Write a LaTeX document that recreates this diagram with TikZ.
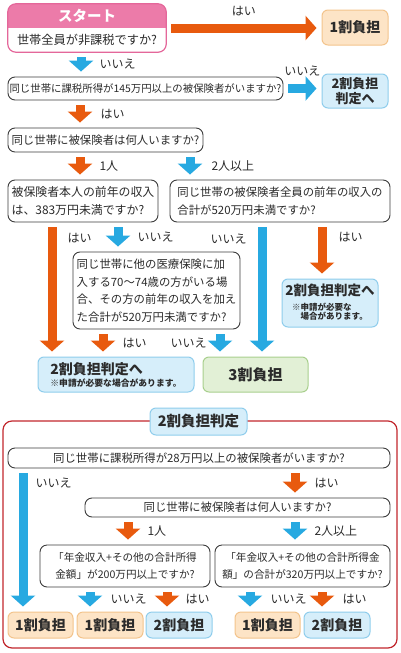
\documentclass[tikz,border=0pt]{standalone}
\usepackage{fontspec}
\setmainfont{Noto Sans CJK JP}
\usetikzlibrary{arrows.meta}

\definecolor{corange}{HTML}{E85A0E}
\definecolor{cblue}{HTML}{27A9E1}
\definecolor{cpink}{HTML}{EC7BA9}
\definecolor{cpinkline}{HTML}{E4679A}
\definecolor{cpeach}{HTML}{FDE4C6}
\definecolor{cpeachline}{HTML}{F3C48C}
\definecolor{clblue}{HTML}{D6EEFA}
\definecolor{clblueline}{HTML}{8FCDEC}
\definecolor{cgreen}{HTML}{E2F0D6}
\definecolor{cgreenline}{HTML}{A8CF8D}
\definecolor{cframe}{HTML}{C1272D}
\definecolor{cline}{HTML}{3C3C3C}
\definecolor{ctext}{HTML}{2B2B2B}

\newcommand\smallnotefont{\fontsize{8.8}{10.5}\selectfont\bfseries}

\begin{document}
\begin{tikzpicture}[x=1pt,y=-1pt,
    qbox/.style={draw=cline,line width=0.9pt,rounded corners=7pt,fill=white,
      inner sep=0pt,align=left,text=ctext,font=\fontsize{11.4}{17.5}\selectfont},
    onebox/.style={draw=cpeachline,line width=1pt,rounded corners=6pt,fill=cpeach,
      inner sep=0pt,align=center,text=ctext,font=\fontsize{14}{16}\selectfont\bfseries},
    twobox/.style={onebox,draw=clblueline,fill=clblue},
    threebox/.style={onebox,draw=cgreenline,fill=cgreen},
    lbl/.style={inner sep=1pt,text=ctext,font=\fontsize{12}{14}\selectfont},
    oarrow/.style={draw=corange,line width=9pt,-{Triangle[width=24pt,length=11pt]},
      shorten <=5pt,shorten >=5pt},
    barrow/.style={oarrow,draw=cblue}]

\useasboundingbox (0,0) rectangle (400,653);

% Start box with pink head
\node[fill=white,rounded corners=8pt,minimum width=158pt,minimum height=48pt,
  inner sep=0pt] (start) at (87,28) {};
\begin{scope}
  \clip[rounded corners=8pt] (start.north west) rectangle (start.south east);
  \fill[cpink] (start.north west) rectangle ([yshift=-24pt]start.north east);
\end{scope}
\draw[cpinkline,line width=1.2pt,rounded corners=8pt]
  (start.north west) rectangle (start.south east);
\node[text=white,font=\fontsize{14.5}{16}\selectfont\bfseries] (starttitle)
  at ([yshift=-12pt]start.north) {スタート};
\node[text=ctext,font=\fontsize{12.2}{14}\selectfont] (startq)
  at ([yshift=12pt]start.south) {世帯全員が非課税ですか?};

% Upper flow
\node[onebox,minimum width=66pt,minimum height=35pt] (one1) at (355,27.5) {1割負担};
\node[qbox,minimum width=275pt,minimum height=23pt,
  font=\fontsize{10.4}{12}\selectfont] (q145) at (145.5,88.5)
  {同じ世帯に課税所得が145万円以上の被保険者がいますか?};
\node[twobox,minimum width=66pt,minimum height=34pt,
  font=\fontsize{13}{15.5}\selectfont\bfseries] (judgeA) at (355,91) {2割負担\\判定へ};
\node[qbox,minimum width=195pt,minimum height=24pt] (qnum) at (105.5,140)
  {同じ世帯に被保険者は何人いますか?};
\node[qbox,minimum width=150pt,minimum height=42pt,
  font=\fontsize{11.9}{17.5}\selectfont] (qself) at (83,201)
  {被保険者本人の前年の収入\\は、383万円未満ですか?};
\node[qbox,minimum width=220pt,minimum height=42pt] (qall) at (280,201)
  {同じ世帯の被保険者全員の前年の収入の\\合計が520万円未満ですか?};
\node[qbox,minimum width=167pt,minimum height=77pt] (qother) at (156.5,290.5)
  {同じ世帯に他の医療保険に加\\入する70〜74歳の方がいる場\\合、その方の前年の収入を加え\\た合計が520万円未満ですか?};
\node[twobox,minimum width=96pt,minimum height=48pt,
  font=\fontsize{13.5}{16}\selectfont\bfseries] (judgeB) at (330,303)
  {2割負担判定へ\\[-1pt]\fontsize{8.5}{10}\selectfont\bfseries\begin{tabular}[t]{@{}l@{}}
    ※申請が必要な\\[-2pt]\hspace*{1em}場合があります。\end{tabular}};
\node[twobox,minimum width=156pt,minimum height=35pt,align=left] (judgeC) at (116,374.5)
  {2割負担判定へ\\[-4pt]\smallnotefont ※申請が必要な場合があります。};
\node[threebox,minimum width=105pt,minimum height=35pt,
  font=\fontsize{15}{17}\selectfont\bfseries] (three) at (255.5,374.5) {3割負担};

\draw[oarrow] (start.east) -- (start.east -| one1.west)
  node[lbl,midway,above=7pt] {はい};
\draw[barrow] (start.south -| 81,0) -- (q145.north -| 81,0)
  node[lbl,midway,right=13pt] {いいえ};
\draw[barrow] (q145.east) -- (q145.east -| judgeA.west)
  node[lbl,midway,above=7pt] {いいえ};
\draw[oarrow] (q145.south -| 80,0) -- (qnum.north -| 80,0)
  node[lbl,midway,right=15pt] {はい};
\draw[oarrow] (qnum.south -| 80,0) -- (qself.north -| 80,0)
  node[lbl,midway,right=14pt] {1人};
\draw[barrow] (qnum.south -| 190,0) -- (qall.north -| 190,0)
  node[lbl,midway,right=16pt] {2人以上};
\draw[oarrow] (qself.south -| 52,0) -- (judgeC.north -| 52,0)
  node[lbl,pos=0.12,right=10pt] {はい};
\draw[barrow] (qself.south -| 118,0) -- (qother.north -| 118,0)
  node[lbl,midway,right=14pt] {いいえ};
\draw[barrow] (qall.south -| 262,0) -- (three.north -| 262,0)
  node[lbl,pos=0.12,left=10pt] {いいえ};
\draw[oarrow] (qall.south -| 322,0) -- (judgeB.north -| 322,0)
  node[lbl,pos=0.27,right=11pt] {はい};
\draw[oarrow] (qother.south -| 103,0) -- (judgeC.north -| 103,0)
  node[lbl,midway,right=14pt] {はい};
\draw[barrow] (qother.south -| 220,0) -- (three.north -| 220,0)
  node[lbl,midway,left=8pt] {いいえ};

% Lower frame: 2割負担判定
\draw[cframe,line width=1.2pt,rounded corners=9pt] (3,421) rectangle (397,648);
\node[twobox,minimum width=97pt,minimum height=27pt,
  font=\fontsize{14.5}{16}\selectfont\bfseries] (title) at (198.5,421.5) {2割負担判定};

\node[qbox,minimum width=382pt,minimum height=20pt] (q28) at (199,458)
  {同じ世帯に課税所得が28万円以上の被保険者がいますか?};
\node[qbox,minimum width=305pt,minimum height=19pt] (qnumB) at (237.5,507.5)
  {同じ世帯に被保険者は何人いますか?};
\node[qbox,minimum width=170pt,minimum height=42pt,align=center,
  font=\fontsize{10.6}{17}\selectfont] (qincA) at (125,566)
  {「年金収入+その他の合計所得\\金額」が200万円以上ですか?};
\node[qbox,minimum width=175pt,minimum height=42pt,align=center,
  font=\fontsize{10.6}{17}\selectfont] (qincB) at (302.5,566)
  {「年金収入+その他の合計所得金\\額」の合計が320万円以上ですか?};

\node[onebox,minimum width=65pt,minimum height=26pt] (endA) at (40.5,625) {1割負担};
\node[onebox,minimum width=66pt,minimum height=26pt] (endB) at (110,625) {1割負担};
\node[twobox,minimum width=66pt,minimum height=26pt] (endC) at (179,625) {2割負担};
\node[onebox,minimum width=65pt,minimum height=26pt] (endD) at (267.5,625) {1割負担};
\node[twobox,minimum width=66pt,minimum height=26pt] (endE) at (337,625) {2割負担};

\draw[barrow] (q28.south -| 23,0) -- (endA.north -| 23,0)
  node[lbl,pos=0.1,right=7pt] {いいえ};
\draw[oarrow] (q28.south -| 295,0) -- (qnumB.north -| 295,0)
  node[lbl,midway,right=14pt] {はい};
\draw[oarrow] (qnumB.south -| 128,0) -- (qincA.north -| 128,0)
  node[lbl,midway,right=14pt] {1人};
\draw[barrow] (qnumB.south -| 295,0) -- (qincB.north -| 295,0)
  node[lbl,midway,right=14pt] {2人以上};
\draw[barrow] (qincA.south -| 90,0) -- (endB.north -| 90,0)
  node[lbl,midway,right=15pt] {いいえ};
\draw[oarrow] (qincA.south -| 167,0) -- (endC.north -| 167,0)
  node[lbl,midway,right=13pt] {はい};
\draw[barrow] (qincB.south -| 250,0) -- (endD.north -| 250,0)
  node[lbl,midway,right=15pt] {いいえ};
\draw[oarrow] (qincB.south -| 322,0) -- (endE.north -| 322,0)
  node[lbl,midway,right=15pt] {はい};

\end{tikzpicture}
\end{document}
